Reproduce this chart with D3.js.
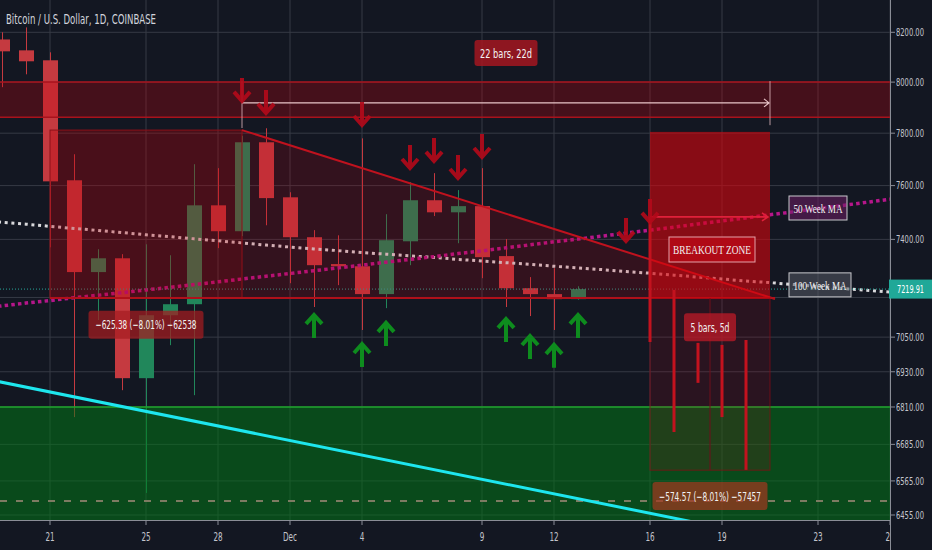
<!DOCTYPE html>
<html><head><meta charset="utf-8">
<script src="https://cdn.jsdelivr.net/npm/d3@7"></script>
<style>html,body{margin:0;padding:0;background:#131722;}svg{display:block}</style>
</head><body>
<svg id="chart" width="932" height="550"></svg>
<script>
// ---------- DATA ----------
const title = "Bitcoin / U.S. Dollar, 1D, COINBASE";
const dates = ["2019-11-19","2019-11-20","2019-11-21","2019-11-22","2019-11-23","2019-11-24","2019-11-25","2019-11-26","2019-11-27","2019-11-28","2019-11-29","2019-11-30","2019-12-01","2019-12-02","2019-12-03","2019-12-04","2019-12-05","2019-12-06","2019-12-07","2019-12-08","2019-12-09","2019-12-10","2019-12-11","2019-12-12","2019-12-13"];
const open  = [8171,8127,8087,7620,7281,7331,6908,7127,7166,7526,7430,7765,7556,7408,7310,7302,7202,7393,7545,7500,7523,7339,7223,7202,7184];
const high  = [8200,8220,8119,7719,7364,7346,7382,7342,7681,7666,7790,7819,7575,7434,7415,7780,7493,7613,7647,7583,7666,7401,7263,7295,7230];
const low   = [7980,8031,7371,6776,7110,6867,6526,7022,6850,7368,7412,7452,7241,7156,7234,7075,7152,7306,7486,7386,7259,7156,7124,7075,7182];
const close = [8123,8083,7616,7281,7331,6908,7127,7166,7526,7430,7765,7553,7408,7306,7302,7202,7397,7545,7500,7523,7335,7223,7202,7184,7219.91];

const maDates = ["2019-11-18","2019-11-19","2019-11-20","2019-11-21","2019-11-22","2019-11-23","2019-11-24","2019-11-25","2019-11-26","2019-11-27","2019-11-28","2019-11-29","2019-11-30","2019-12-01","2019-12-02","2019-12-03","2019-12-04","2019-12-05","2019-12-06","2019-12-07","2019-12-08","2019-12-09","2019-12-10","2019-12-11","2019-12-12","2019-12-13","2019-12-14","2019-12-15","2019-12-16","2019-12-17","2019-12-18","2019-12-19","2019-12-20","2019-12-21","2019-12-22","2019-12-23","2019-12-24","2019-12-25","2019-12-26"];
const ma50  = [7151,7160,7170,7179,7189,7198,7207,7217,7226,7236,7246,7256,7266,7276,7286,7296,7306,7317,7327,7337,7348,7358,7369,7380,7391,7401,7412,7423,7434,7445,7457,7468,7479,7491,7502,7514,7525,7537,7549];
const ma100 = [7471,7463,7456,7448,7440,7433,7425,7417,7410,7402,7395,7387,7379,7372,7365,7359,7352,7346,7340,7334,7327,7321,7315,7309,7302,7296,7290,7283,7277,7270,7263,7256,7249,7243,7236,7229,7222,7216,7209];

const yTicks = [8200,8000,7800,7600,7400,7190,7050,6930,6810,6685,6565,6455];
const yTickLabels = ["8200.00","8000.00","7800.00","7600.00","7400.00","","7050.00","6930.00","6810.00","6685.00","6565.00","6455.00"];
const xTickDates  = ["2019-11-21","2019-11-25","2019-11-28","2019-12-01","2019-12-04","2019-12-09","2019-12-12","2019-12-16","2019-12-19","2019-12-23","2019-12-26"];
const xTickLabels = ["21","25","28","Dec","4","9","12","16","19","23","26"];

// drawings (date / price anchors)
const resistBand = [8000, 7862];
const boxDates = ["2019-11-21","2019-11-29"], boxPrices = [7812, 7188];
const wedgeDates = ["2019-11-29","2019-12-21"], wedgePrices = [7812, 7188];
const rangeDates = ["2019-11-29","2019-12-21"], rangePrice = 7918, rangeTop = 8004, rangeBottoms = [7820, 7831];
const breakoutDates = ["2019-12-16","2019-12-21"], breakoutPrices = [7805, 7188], projectionLow = 6600, breakoutArrowPrice = 7483;
const supportTop = 6810, dashedPrice = 6500;
const trendDates = ["2019-11-19","2019-12-12"], trendPrices = [6894, 6523];
const projDates = ["2019-12-16","2019-12-17","2019-12-18","2019-12-19","2019-12-20"];
const projTop = [7483,7217,7030,7023,7040];
const projBot = [7033,6726,6892,6776,6601];
const downDates = ["2019-11-29","2019-11-30","2019-12-04","2019-12-06","2019-12-07","2019-12-08","2019-12-09","2019-12-15","2019-12-16"];
const downTips  = [7918,7871,7824,7659,7686,7621,7701,7387,7457];
const upDates = ["2019-12-02","2019-12-04","2019-12-05","2019-12-10","2019-12-11","2019-12-12","2019-12-13"];
const upTips  = [7135,7033,7107,7121,7061,7030,7135];
const lastPrice = 7219.91;

// ---------- SETUP ----------
const parse = d3.utcParse("%Y-%m-%d");
const svg = d3.select("#chart");
const PR = 890, PB = 520;
const x = d3.scaleUtc().domain([parse("2019-11-19"), parse("2019-12-26")]).range([2, 890]);
const y = d3.scaleLog().domain([8200, 6455]).range([32.3, 515]);
const SANS = "'Liberation Sans Narrow','DejaVu Sans Condensed','Roboto Condensed',sans-serif";
const SERIF = "'Liberation Serif','DejaVu Serif',serif";
const xd = s => x(parse(s));
const mid = (a,b) => (xd(a)+xd(b))/2;

svg.append("rect").attr("width",932).attr("height",550).attr("fill","#131722");
const defs = svg.append("defs");
defs.append("clipPath").attr("id","plot").append("rect").attr("x",0).attr("y",0).attr("width",PR).attr("height",PB);
defs.append("clipPath").attr("id","xclip").append("rect").attr("x",0).attr("y",PB).attr("width",PR).attr("height",30);
const plot = svg.append("g").attr("clip-path","url(#plot)");

// grid
const grid = plot.append("g");
grid.selectAll("line.h").data(yTicks).join("line")
  .attr("x1",0).attr("x2",PR).attr("y1",d=>y(d)).attr("y2",d=>y(d))
  .attr("stroke","#363a45").attr("stroke-width",1);
grid.selectAll("line.v").data(xTickDates).join("line")
  .attr("x1",d=>xd(d)).attr("x2",d=>xd(d)).attr("y1",0).attr("y2",PB)
  .attr("stroke","#363a45").attr("stroke-width",1);

// candles
const candles = dates.map((d,i)=>({d, o:open[i], h:high[i], l:low[i], c:close[i]}));
const RED = "#c53a40", GREEN = "#21875b";
const cg = plot.append("g");
cg.selectAll("line").data(candles).join("line")
  .attr("x1",d=>Math.round(xd(d.d))+0.5).attr("x2",d=>Math.round(xd(d.d))+0.5)
  .attr("y1",d=>y(d.h)).attr("y2",d=>y(d.l))
  .attr("stroke",d=>d.c>=d.o?GREEN:RED).attr("stroke-width",1);
cg.selectAll("rect").data(candles).join("rect")
  .attr("x",d=>Math.round(xd(d.d))-7).attr("width",15)
  .attr("y",d=>y(Math.max(d.o,d.c))).attr("height",d=>Math.max(1.5, y(Math.min(d.o,d.c))-y(Math.max(d.o,d.c))))
  .attr("fill",d=>d.c>=d.o?GREEN:RED);

// moving averages
const maData = maDates.map((d,i)=>({d, a:ma50[i], b:ma100[i]}));
plot.append("path").datum(maData)
  .attr("d", d3.line().x(d=>xd(d.d)).y(d=>y(d.b)))
  .attr("fill","none").attr("stroke","#d9d9dc").attr("stroke-width",3).attr("stroke-dasharray","3,3.7");
plot.append("path").datum(maData)
  .attr("d", d3.line().x(d=>xd(d.d)).y(d=>y(d.a)))
  .attr("fill","none").attr("stroke","#b5168a").attr("stroke-width",3.5).attr("stroke-dasharray","3.5,3.2");

// current price line
plot.append("line").attr("x1",0).attr("x2",PR).attr("y1",y(lastPrice)).attr("y2",y(lastPrice))
  .attr("stroke","#26a69a").attr("stroke-width",1).attr("stroke-dasharray","1,2");

// ---------- DRAWINGS ----------
const dr = plot.append("g");
dr.append("rect").attr("x",0).attr("width",PR).attr("y",y(resistBand[0])).attr("height",y(resistBand[1])-y(resistBand[0]))
  .attr("fill","rgba(200,0,12,0.28)");
resistBand.forEach(p=>dr.append("line").attr("x1",0).attr("x2",PR).attr("y1",y(p)).attr("y2",y(p)).attr("stroke","#a8121c").attr("stroke-width",1.5));

dr.append("rect").attr("x",xd(boxDates[0])).attr("width",xd(boxDates[1])-xd(boxDates[0]))
  .attr("y",y(boxPrices[0])).attr("height",y(boxPrices[1])-y(boxPrices[0]))
  .attr("fill","rgba(190,0,8,0.32)").attr("stroke","#8e1018").attr("stroke-width",1);

const tri = [[xd(wedgeDates[0]),y(wedgePrices[0])],[xd(wedgeDates[1]),y(wedgePrices[1])],[xd(wedgeDates[0]),y(wedgePrices[1])]];
dr.append("path").attr("d","M"+tri.map(p=>p.join(",")).join("L")+"Z").attr("fill","rgba(190,0,15,0.19)");
dr.append("line").attr("x1",tri[0][0]).attr("y1",tri[0][1]).attr("x2",tri[1][0]+5).attr("y2",tri[1][1]+1)
  .attr("stroke","#c0121e").attr("stroke-width",2);
dr.append("line").attr("x1",xd(boxDates[0])).attr("y1",y(wedgePrices[1])).attr("x2",tri[1][0]+5).attr("y2",y(wedgePrices[1]))
  .attr("stroke","#b0101a").attr("stroke-width",2);

dr.append("rect").attr("x",0).attr("width",PR).attr("y",y(supportTop)).attr("height",PB-y(supportTop))
  .attr("fill","rgba(0,120,22,0.52)");
dr.append("line").attr("x1",0).attr("x2",PR).attr("y1",y(supportTop)).attr("y2",y(supportTop))
  .attr("stroke","#1ea52c").attr("stroke-width",1.5);
dr.append("line").attr("x1",0).attr("x2",PR).attr("y1",y(dashedPrice)).attr("y2",y(dashedPrice))
  .attr("stroke","#7d7b62").attr("stroke-width",2).attr("stroke-dasharray","7,9");

const bx0 = xd(breakoutDates[0]), bx1 = xd(breakoutDates[1]);
dr.append("rect").attr("x",bx0).attr("width",bx1-bx0).attr("y",y(breakoutPrices[1])).attr("height",y(projectionLow)-y(breakoutPrices[1]))
  .attr("fill","rgba(200,0,25,0.13)").attr("stroke","rgba(140,10,20,0.7)").attr("stroke-width",1);
dr.append("rect").attr("x",bx0).attr("width",bx1-bx0).attr("y",y(breakoutPrices[0])).attr("height",y(breakoutPrices[1])-y(breakoutPrices[0]))
  .attr("fill","rgba(215,5,14,0.6)");
dr.append("line").attr("x1",(bx0+bx1)/2).attr("x2",(bx0+bx1)/2).attr("y1",y(breakoutPrices[1])).attr("y2",y(projectionLow))
  .attr("stroke","#6e0f1a").attr("stroke-width",1);
const ba = y(breakoutArrowPrice);
dr.append("path").attr("d",`M${bx0},${ba}L${bx1-2},${ba}M${bx1-8},${ba-4}L${bx1-2},${ba}L${bx1-8},${ba+4}`)
  .attr("fill","none").attr("stroke","#e0203a").attr("stroke-width",1.6);
dr.selectAll("line.proj").data(projDates.map((d,i)=>({d,t:projTop[i],b:projBot[i]}))).join("line")
  .attr("x1",d=>xd(d.d)).attr("x2",d=>xd(d.d)).attr("y1",d=>y(d.t)).attr("y2",d=>y(d.b))
  .attr("stroke","#c3121e").attr("stroke-width",3);

const t0=[xd(trendDates[0]),y(trendPrices[0])], t1=[xd(trendDates[1]),y(trendPrices[1])];
const sl=(t1[1]-t0[1])/(t1[0]-t0[0]);
dr.append("line").attr("x1",-10).attr("y1",t0[1]+sl*(-10-t0[0])).attr("x2",900).attr("y2",t0[1]+sl*(900-t0[0]))
  .attr("stroke","#1ee6ee").attr("stroke-width",3);

const r0=xd(rangeDates[0]), r1=xd(rangeDates[1]), ry=y(rangePrice);
dr.append("line").attr("x1",r0).attr("x2",r0).attr("y1",y(rangeTop)).attr("y2",y(rangeBottoms[0])).attr("stroke","rgba(225,185,190,0.8)").attr("stroke-width",1);
dr.append("line").attr("x1",r1).attr("x2",r1).attr("y1",y(rangeTop)).attr("y2",y(rangeBottoms[1])).attr("stroke","rgba(225,185,190,0.8)").attr("stroke-width",1);
dr.append("path").attr("d",`M${r0},${ry}L${r1-1},${ry}M${r1-6},${ry-4}L${r1-1},${ry}L${r1-6},${ry+4}`)
  .attr("fill","none").attr("stroke","#e8c4c8").attr("stroke-width",1.2);

function downArrow(cx, tip){
  return `M${cx},${tip-25}L${cx},${tip-2}M${cx-8},${tip-11}L${cx},${tip-2}L${cx+8},${tip-11}`;
}
function upArrow(cx, tip){
  return `M${cx},${tip+25}L${cx},${tip+2}M${cx-8},${tip+11}L${cx},${tip+2}L${cx+8},${tip+11}`;
}
dr.selectAll("path.down").data(downDates.map((d,i)=>({d,p:downTips[i]}))).join("path")
  .attr("d",d=>downArrow(xd(d.d), y(d.p))).attr("fill","none").attr("stroke","#b20a1a").attr("stroke-width",4)
  .attr("stroke-linejoin","miter").attr("opacity",0.92);
dr.selectAll("path.up").data(upDates.map((d,i)=>({d,p:upTips[i]}))).join("path")
  .attr("d",d=>upArrow(xd(d.d), y(d.p))).attr("fill","none").attr("stroke","#0e8c1e").attr("stroke-width",4)
  .attr("stroke-linejoin","miter");

function label(cx, cy, w, h, text, tw, opts){
  const g = dr.append("g");
  g.append("rect").attr("x",cx-w/2).attr("y",cy-h/2).attr("width",w).attr("height",h)
    .attr("rx",opts.rx||0).attr("fill",opts.fill).attr("stroke",opts.stroke||"none").attr("stroke-width",1);
  g.append("text").attr("x",cx).attr("y",cy).attr("dy","0.36em").attr("text-anchor","middle")
    .attr("font-family",opts.font||SANS).attr("font-size",opts.size||12.5).attr("fill",opts.color||"#f2f2f2")
    .attr("textLength",tw).attr("lengthAdjust","spacingAndGlyphs").text(text);
}
label(mid(rangeDates[0],rangeDates[1]), y(8116), 63, 26, "22 bars, 22d", 52, {fill:"rgba(170,22,32,0.82)", rx:3});
label(mid(breakoutDates[0],breakoutDates[1]), y(7085), 52, 28, "5 bars, 5d", 39, {fill:"rgba(185,25,38,0.78)", rx:3});
label(mid(boxDates[0],boxDates[1]), y(7093), 115, 28, "\u2212625.38 (\u22128.01%) \u221262538", 101, {fill:"rgba(165,28,32,0.72)", rx:3});
label(mid(breakoutDates[0],breakoutDates[1]), y(6516), 115, 28, "\u2212574.57 (\u22128.01%) \u221257457", 102, {fill:"rgba(165,55,32,0.7)", rx:3});
label(712, y(7363), 86, 25, "BREAKOUT ZONE", 78, {fill:"#b00a16", stroke:"#e3a0a8", font:SERIF, size:13});
label(xd("2019-12-23"), y(7516), 58, 24, "50 Week MA", 49, {fill:"rgba(110,30,100,0.55)", stroke:"#c8c8cc", font:SERIF, size:13});
label(xd("2019-12-23")+2, y(7235), 62, 24, "100 Week MA", 53, {fill:"rgba(85,90,100,0.55)", stroke:"#c8c8cc", font:SERIF, size:13});

// ---------- AXES ----------
const ax = svg.append("g");
ax.append("line").attr("x1",PR+0.5).attr("x2",PR+0.5).attr("y1",0).attr("y2",550).attr("stroke","#8a8d96");
ax.append("line").attr("x1",0).attr("x2",PR).attr("y1",PB+0.5).attr("y2",PB+0.5).attr("stroke","#8a8d96");
ax.selectAll("line.yt").data(yTicks).join("line")
  .attr("x1",PR).attr("x2",PR+5).attr("y1",d=>y(d)).attr("y2",d=>y(d)).attr("stroke","#8a8d96");

// fitted text: natural glyphs, scaled horizontally to a target width
function fitText(parent, tx, ty, str, target, color){
  const g = parent.append("g");
  const t = g.append("text").attr("x",0).attr("y",0).attr("dy","0.36em")
    .attr("font-family",SANS).attr("font-size",10.5).attr("fill",color).text(str);
  const w = t.node().getComputedTextLength() || target;
  g.attr("transform",`translate(${tx},${ty}) scale(${target/w},1)`);
  return g;
}
yTicks.forEach((v,i)=>{ if (yTickLabels[i]) fitText(ax, 896, y(v), yTickLabels[i], 28, "#c3c5cc"); });

// x axis
const xg = svg.append("g").attr("clip-path","url(#xclip)");
xg.selectAll("line").data(xTickDates).join("line")
  .attr("x1",d=>xd(d)).attr("x2",d=>xd(d)).attr("y1",PB).attr("y2",PB+5).attr("stroke","#8a8d96");
xg.selectAll("text").data(xTickLabels).join("text")
  .attr("x",(d,i)=>xd(xTickDates[i])).attr("y",PB+21).attr("text-anchor","middle")
  .attr("font-family",SANS).attr("font-size",13).attr("fill","#c3c5cc")
  .attr("textLength",d=>d==="Dec"?14:d.length*4.6).attr("lengthAdjust","spacingAndGlyphs")
  .text(d=>d);

// current price label
const ly = y(lastPrice);
ax.append("rect").attr("x",PR-1).attr("y",ly-9.5).attr("width",932-PR+1).attr("height",19).attr("fill","#20a898");
fitText(ax, 897, ly, d3.format(".2f")(lastPrice), 27, "#ffffff");

// title
svg.append("text").attr("x",6).attr("y",24).attr("font-family",SANS).attr("font-size",14)
  .attr("fill","#d1d4dc").attr("textLength",150).attr("lengthAdjust","spacingAndGlyphs").text(title);
</script>
</body></html>
